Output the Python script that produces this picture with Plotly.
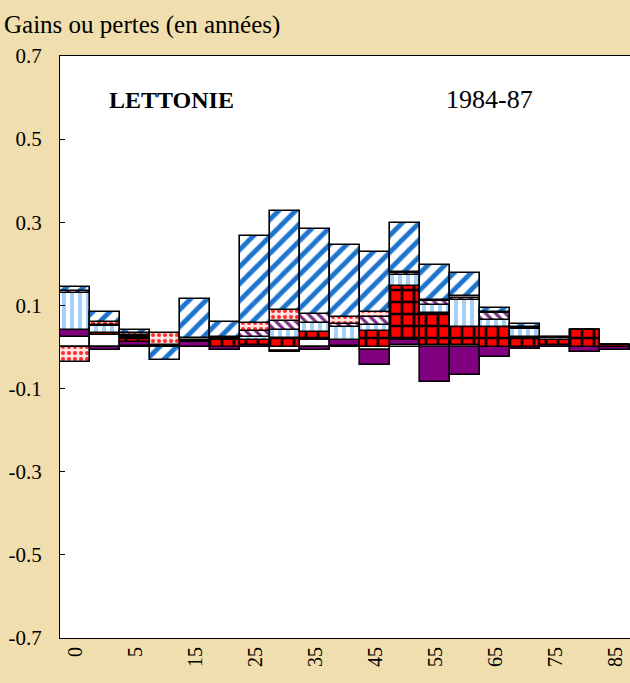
import plotly.graph_objects as go

ages = ["0", "1", "5", "10", "15", "20", "25", "30", "35", "40",
        "45", "50", "55", "60", "65", "70", "75", "80", "85"]
shown_ages = ["0", "5", "15", "25", "35", "45", "55", "65", "75", "85"]

infectieuses = [0.025, 0.030, 0.003, 0.0, 0.001, 0.0, 0.001, -0.010, 0.018, 0.002,
                -0.007, 0.004, 0.005, 0.004, 0.0, 0.0, 0.0, 0.0, 0.0]
tumeurs = [0.016, -0.008, 0.010, 0.002, 0.010, -0.008, 0.004, -0.003, -0.008, 0.014,
           -0.036, 0.012, -0.083, -0.067, -0.023, -0.005, 0.004, -0.011, -0.007]
circulatoire = [0.0, 0.003, 0.012, 0.003, 0.003, 0.017, 0.011, 0.022, 0.019, 0.002,
                0.038, 0.131, 0.076, 0.044, 0.048, 0.025, 0.012, 0.042, 0.006]
respiratoire = [0.090, 0.017, 0.002, 0.0, 0.001, 0.002, 0.009, 0.019, 0.021, 0.030,
                0.016, 0.027, 0.021, 0.064, 0.016, 0.019, 0.005, 0.0, 0.0]
digestif = [0.004, 0.004, 0.002, 0.0, 0.001, 0.002, 0.013, 0.021, 0.022, 0.008,
            0.018, 0.003, 0.009, 0.005, 0.017, 0.002, 0.0, 0.0, 0.0]
autres = [-0.035, 0.006, 0.005, 0.028, 0.005, 0.002, 0.020, 0.027, 0.0, 0.017,
          0.013, 0.003, 0.002, 0.006, 0.004, 0.002, 0.0, 0.0, 0.0]
violentes = [0.009, 0.025, 0.008, -0.032, 0.095, 0.037, 0.208, 0.238, 0.203, 0.172,
             0.143, 0.119, 0.085, 0.056, 0.010, 0.008, 0.004, 0.0, 0.0]

y_ticks = [-0.7, -0.5, -0.3, -0.1, 0.1, 0.3, 0.5, 0.7]

serif = "Liberation Serif, Times New Roman, serif"
bg = "#F0DEAE"
line = dict(color="black", width=1.6)

series = [
    ("Maladies infectieuses", infectieuses, dict(color="white", line=line)),
    ("Tumeurs", tumeurs, dict(color="#800080", line=line)),
    ("Appareil circulatoire", circulatoire,
     dict(color="#FF0000", line=line,
          pattern=dict(shape="+", fgcolor="black", bgcolor="#FF0000",
                       size=12, solidity=0.4, fillmode="replace"))),
    ("Appareil respiratoire", respiratoire,
     dict(color="white", line=line,
          pattern=dict(shape="|", fgcolor="#A6D0F5", bgcolor="white",
                       size=8, solidity=0.5, fillmode="replace"))),
    ("Appareil digestif", digestif,
     dict(color="white", line=line,
          pattern=dict(shape="\\", fgcolor="#7A2A82", bgcolor="white",
                       size=7, solidity=0.45, fillmode="replace"))),
    ("Autres causes", autres,
     dict(color="#FFE4E4", line=line,
          pattern=dict(shape=".", fgcolor="#FF2A2A", bgcolor="#FFE4E4",
                       size=6, solidity=0.35, fillmode="replace"))),
    ("Morts violentes", violentes,
     dict(color="white", line=line,
          pattern=dict(shape="/", fgcolor="#1C74CC", bgcolor="white",
                       size=12, solidity=0.4, fillmode="replace"))),
]

fig = go.Figure()
for name, vals, marker in series:
    fig.add_trace(go.Bar(x=ages, y=vals, name=name, marker=marker))

fig.update_layout(
    width=630, height=683,
    margin=dict(l=60, r=0, t=56, b=45, autoexpand=False),
    barmode="relative", bargap=0,
    paper_bgcolor=bg, plot_bgcolor="white",
    showlegend=False,
    font=dict(family=serif, size=21, color="black"),
    xaxis=dict(type="category", categoryorder="array", categoryarray=ages,
               tickmode="array", tickvals=shown_ages, ticktext=shown_ages,
               tickangle=-90, ticks="", showline=True, linecolor="black",
               linewidth=1, mirror=True, showgrid=False, zeroline=False,
               tickfont=dict(family=serif, size=20)),
    yaxis=dict(range=[-0.7, 0.7], tickmode="array", tickvals=y_ticks,
               ticktext=[f"{v:.1f}" for v in y_ticks],
               ticks="inside", ticklen=5, tickcolor="black",
               showline=True, linecolor="black", linewidth=1,
               showgrid=False, zeroline=False, ticklabelstandoff=13,
               tickfont=dict(family=serif, size=21)),
    annotations=[
        dict(text="Gains ou pertes (en années)", xref="paper", yref="paper",
             x=-0.102, y=1.053, xanchor="left", yanchor="middle",
             showarrow=False, font=dict(family=serif, size=25)),
        dict(text="<b>LETTONIE</b>", xref="paper", yref="paper",
             x=0.196, y=0.925, xanchor="center", yanchor="middle",
             showarrow=False, font=dict(family=serif, size=24)),
        dict(text="1984-87", xref="paper", yref="paper",
             x=0.753, y=0.925, xanchor="center", yanchor="middle",
             showarrow=False, font=dict(family=serif, size=26)),
    ],
)

fig.write_html(
    "out.html",
    config={"displayModeBar": False},
    post_script=("document.body.style.margin='0';"
                 "document.body.style.background='%s';" % bg),
)
